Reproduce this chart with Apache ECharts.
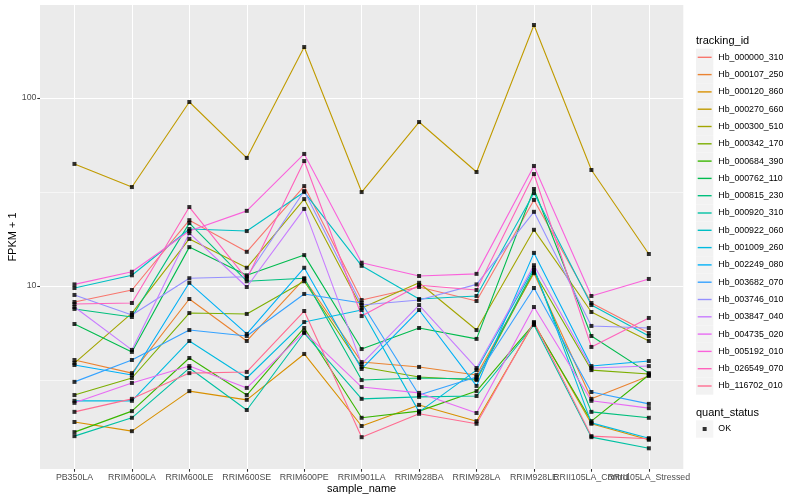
<!DOCTYPE html>
<html><head><meta charset="utf-8">
<script src="https://cdn.jsdelivr.net/npm/echarts@6/dist/echarts.min.js"></script>
<style>html,body{margin:0;padding:0;background:#fff}#c{width:800px;height:500px}</style>
</head><body><div id="c"></div>
<script>
const categories = ['PB350LA','RRIM600LA','RRIM600LE','RRIM600SE','RRIM600PE','RRIM901LA','RRIM928BA','RRIM928LA','RRIM928LE','RRII105LA_Control','RRII105LA_Stressed'];
const trackingIds = ['Hb_000000_310','Hb_000107_250','Hb_000120_860','Hb_000270_660','Hb_000300_510','Hb_000342_170','Hb_000684_390','Hb_000762_110','Hb_000815_230','Hb_000920_310','Hb_000922_060','Hb_001009_260','Hb_002249_080','Hb_003682_070','Hb_003746_010','Hb_003847_040','Hb_004735_020','Hb_005192_010','Hb_026549_070','Hb_116702_010'];

const Hb_000000_310 = [8.22, 9.52, 22.4, 15.2, 34.0, 8.42, 9.88, 8.32, 28.7, 8.12, 5.62];
const Hb_000107_250 = [4.04, 3.44, 8.53, 5.10, 10.9, 3.94, 3.71, 3.36, 11.7, 2.51, 3.32];
const Hb_000120_860 = [1.89, 1.69, 2.76, 2.48, 4.35, 1.80, 2.33, 1.91, 6.36, 1.85, 1.52];
const Hb_000270_660 = [44.6, 33.6, 95.2, 48.0, 186.7, 31.6, 74.5, 40.4, 244.5, 41.4, 14.8];
const Hb_000300_510 = [3.89, 7.18, 17.8, 12.5, 29.0, 7.64, 10.4, 5.83, 19.9, 7.27, 5.10];
const Hb_000342_170 = [2.63, 3.24, 7.18, 7.10, 10.6, 3.71, 3.28, 3.16, 11.9, 3.57, 3.40];
const Hb_000684_390 = [1.67, 2.16, 4.14, 2.63, 5.98, 1.99, 2.16, 2.76, 6.28, 1.91, 3.36];
const Hb_000762_110 = [6.28, 4.46, 16.1, 11.4, 14.6, 4.62, 5.98, 5.23, 32.8, 5.42, 3.44];
const Hb_000815_230 = [7.55, 6.84, 21.6, 10.6, 11.0, 3.16, 3.24, 3.20, 12.2, 2.14, 1.99];
const Hb_000920_310 = [1.59, 1.99, 3.66, 2.19, 5.62, 2.51, 2.57, 2.60, 6.20, 1.57, 1.37];
const Hb_000922_060 = [9.76, 11.4, 20.1, 19.6, 31.6, 12.8, 8.53, 8.85, 31.2, 7.92, 5.42];
const Hb_001009_260 = [2.45, 2.45, 5.10, 3.24, 6.43, 7.45, 2.14, 3.57, 12.5, 1.87, 1.55];
const Hb_002249_080 = [3.80, 3.36, 10.4, 5.56, 12.5, 3.62, 7.45, 2.94, 15.0, 3.75, 3.99];
const Hb_003682_070 = [3.09, 4.04, 5.83, 5.42, 9.07, 8.12, 2.63, 3.28, 9.76, 2.73, 2.36];
const Hb_003746_010 = [8.96, 7.01, 11.0, 11.2, 32.0, 7.92, 8.42, 10.2, 24.8, 6.13, 5.98];
const Hb_003847_040 = [7.73, 4.57, 19.1, 9.88, 25.7, 3.85, 7.92, 3.66, 12.9, 3.66, 3.75];
const Hb_004735_020 = [2.39, 3.05, 3.75, 2.87, 5.69, 2.90, 2.70, 2.11, 7.73, 2.45, 2.24];
const Hb_005192_010 = [10.2, 11.9, 19.6, 25.1, 50.4, 13.3, 11.3, 11.6, 43.5, 8.85, 10.9];
const Hb_026549_070 = [8.02, 8.12, 26.3, 10.9, 46.2, 6.92, 10.1, 9.52, 39.4, 4.74, 6.76];
const Hb_116702_010 = [2.14, 2.51, 3.44, 3.49, 7.36, 1.57, 2.09, 1.85, 6.43, 1.59, 1.54];

const seriesValues = [Hb_000000_310, Hb_000107_250, Hb_000120_860, Hb_000270_660, Hb_000300_510, Hb_000342_170, Hb_000684_390, Hb_000762_110, Hb_000815_230, Hb_000920_310, Hb_000922_060, Hb_001009_260, Hb_002249_080, Hb_003682_070, Hb_003746_010, Hb_003847_040, Hb_004735_020, Hb_005192_010, Hb_026549_070, Hb_116702_010];

const yTickValues = [10, 100];
const yMinorValues = [3.1623, 31.623];
const yLimits = [1.063, 312.4];
const statusLabel = 'OK';

const palette = ['#F8766D','#EA8331','#D89000','#C09B00','#A3A500','#7CAE00','#39B600','#00BB4E','#00BF7D','#00C1A3','#00BFC4','#00BAE0','#00B0F6','#35A2FF','#9590FF','#C77CFF','#E76BF3','#FA62DB','#FF62BC','#FF6C91'];
const FONT = 'Liberation Sans, Arial, Helvetica, sans-serif';
const xIdx = categories.map((c, i) => i);
const xEven = xIdx.filter(i => i % 2 === 0);
const xOdd = xIdx.filter(i => i % 2 === 1);
const lg = Math.log10;

const lineSeries = trackingIds.map((id, k) => ({
  type: 'line', name: id, xAxisIndex: 0, yAxisIndex: 0,
  data: seriesValues[k].map((v, i) => [i, v]),
  symbol: 'none', showSymbol: false, silent: true, z: 2,
  lineStyle: { color: palette[k], width: 1.1 },
  itemStyle: { color: palette[k] }
}));
const pointData = [];
seriesValues.forEach(arr => arr.forEach((v, i) => pointData.push([i, v])));
const pointSeries = {
  type: 'scatter', name: statusLabel, xAxisIndex: 0, yAxisIndex: 0,
  data: pointData, symbol: 'rect', symbolSize: 4, silent: true, z: 5,
  itemStyle: { color: '#000000' }
};

const chart = echarts.init(document.getElementById('c'), null, { renderer: 'canvas' });
const keySize = 17.3;
const legendTop = 48.65;
const okTop = 420.35;
const noLine = { show: false, onZero: false };
const legendText = (color) => ({ fontSize: 8.8, color: color, fontFamily: FONT, lineHeight: keySize, height: keySize });
const xLabelStyle = { formatter: v => categories[Math.round(v)], fontSize: 8.8, color: '#4D4D4D', margin: 3.6, hideOverlap: false, showMinLabel: true, showMaxLabel: true, fontFamily: FONT };
chart.setOption({
  animation: false,
  backgroundColor: '#ffffff',
  textStyle: { fontFamily: FONT },
  title: [
    { text: 'tracking_id', left: 696, top: 35.5, padding: 0, textStyle: { fontSize: 11, fontWeight: 'normal', color: '#000', fontFamily: FONT } },
    { text: 'quant_status', left: 696, top: 407.8, padding: 0, textStyle: { fontSize: 11, fontWeight: 'normal', color: '#000', fontFamily: FONT } }
  ],
  legend: [
    { data: trackingIds, orient: 'vertical', left: 696, top: legendTop, padding: 0, itemGap: 0, itemWidth: keySize, itemHeight: keySize,
      icon: 'rect', itemStyle: { color: '#F2F2F2', borderWidth: 0 }, selectedMode: false, z: 3,
      textStyle: legendText('#000') },
    { data: trackingIds, orient: 'vertical', left: 696 + 1.7, top: legendTop, padding: 0, itemGap: 0, itemWidth: 13.9, itemHeight: keySize,
      icon: 'path://M0,0H100V10H0Z', itemStyle: { borderWidth: 0 }, selectedMode: false, z: 4,
      textStyle: legendText('rgba(0,0,0,0)') },
    { data: [statusLabel], orient: 'vertical', left: 696, top: okTop, padding: 0, itemGap: 0, itemWidth: keySize, itemHeight: keySize,
      icon: 'rect', itemStyle: { color: '#F2F2F2', borderWidth: 0 }, selectedMode: false, z: 3,
      textStyle: legendText('#000') },
    { data: [statusLabel], orient: 'vertical', left: 696 + (keySize - 4) / 2, top: okTop, padding: 0, itemGap: 0, itemWidth: 4, itemHeight: keySize,
      icon: 'path://M0,0H10V10H0Z', itemStyle: { color: '#000', borderWidth: 0 }, selectedMode: false, z: 4,
      textStyle: legendText('rgba(0,0,0,0)') }
  ],
  grid: { left: 40, top: 5, right: 116.7, bottom: 31, show: true, backgroundColor: '#EBEBEB', borderWidth: 0, outerBoundsMode: 'none', containLabel: false },
  xAxis: [
    { type: 'value', min: -0.6, max: 10.6, position: 'bottom',
      axisLine: noLine,
      axisTick: { show: true, customValues: xIdx, length: 2.75, lineStyle: { color: '#333333', width: 1.07 } },
      axisLabel: Object.assign({ customValues: xEven }, xLabelStyle),
      splitLine: { show: true, lineStyle: { color: '#FFFFFF', width: 1.07 } },
      name: 'sample_name', nameLocation: 'middle', nameGap: 14, nameMoveOverlap: false,
      nameTextStyle: { fontSize: 11, color: '#000', fontFamily: FONT } },
    { type: 'value', min: -0.6, max: 10.6, position: 'bottom', offset: 0,
      axisLine: noLine,
      axisTick: { show: false, customValues: xOdd },
      axisLabel: Object.assign({ customValues: xOdd }, xLabelStyle),
      splitLine: { show: false } }
  ],
  yAxis: [
    { type: 'log', logBase: 10, min: yLimits[0], max: yLimits[1], show: false, position: 'left',
      axisLine: noLine, axisTick: { show: false }, axisLabel: { show: false }, splitLine: { show: false } },
    { type: 'value', min: lg(yLimits[0]), max: lg(yLimits[1]), position: 'left',
      axisLine: noLine,
      axisTick: { show: true, customValues: yTickValues.map(lg), length: 2.75, lineStyle: { color: '#333333', width: 1.07 } },
      axisLabel: { customValues: yTickValues.map(lg), formatter: v => String(Math.round(Math.pow(10, v))), fontSize: 8.8, color: '#4D4D4D', margin: 3.5, showMinLabel: true, showMaxLabel: true, fontFamily: FONT },
      splitLine: { show: true, lineStyle: { color: '#FFFFFF', width: 1.07 } } },
    { type: 'value', min: lg(yLimits[0]), max: lg(yLimits[1]), position: 'left',
      axisLine: noLine,
      axisTick: { show: false, customValues: yMinorValues.map(lg) },
      axisLabel: { show: false },
      splitLine: { show: true, lineStyle: { color: '#FFFFFF', width: 0.55 } },
      name: 'FPKM + 1', nameLocation: 'middle', nameGap: 21.5,
      nameTextStyle: { fontSize: 11, color: '#000', fontFamily: FONT } }
  ],
  series: lineSeries.concat([pointSeries])
});
</script></body></html>
